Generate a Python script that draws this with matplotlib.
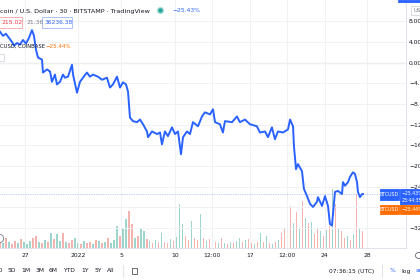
import matplotlib.pyplot as plt
from matplotlib.lines import Line2D
from matplotlib.patches import Rectangle

# BTCUSD 30 min, percent change, x = days from 27 Dec 2021
days = [-2.34, -2.06, -1.78, -1.50, -1.21, -1.03, -0.75, -0.47, -0.19, 0.09,
        0.37, 0.65, 0.84, 1.03, 1.21, 1.59, 1.68, 2.06, 2.34, 2.52,
        2.80, 2.99, 3.27, 3.55, 3.74, 4.02, 4.39, 4.49, 4.86, 5.14,
        5.42, 5.79, 6.07, 6.36, 6.82, 7.20, 7.66, 7.94, 8.22, 8.60,
        8.88, 9.16, 9.44, 9.63, 9.81, 10.09, 10.47, 10.75, 11.03, 11.40,
        11.50, 11.87, 12.34, 12.62, 12.80, 13.08, 13.36, 13.74, 14.02, 14.30,
        14.58, 14.77, 15.14, 15.42, 15.70, 16.17, 16.54, 16.82, 17.29, 17.57,
        17.76, 18.22, 18.50, 18.69, 19.35, 19.81, 20.09, 20.56, 21.03, 21.68,
        21.96, 22.43, 22.71, 23.08, 23.36, 23.64, 24.11, 24.58, 24.77, 25.05,
        25.14, 25.33, 25.51, 25.89, 26.07, 26.36, 26.64, 26.92, 27.29, 27.38,
        27.76, 28.04, 28.32, 28.50, 28.69, 28.79, 28.97, 29.25, 29.63, 29.72,
        29.91, 30.19, 30.37, 30.65, 30.84, 31.03, 31.12, 31.31, 31.50, 31.59]
pct = [6.0, 5.2, 5.6, 4.8, 4.0, 3.3, 3.8, 3.5, 4.4, 3.7,
       4.8, 6.3, 5.2, 2.5, 1.0, 0.6, -1.9, -1.3, -1.7, -3.7,
       -2.3, -4.2, -3.7, -2.3, -2.9, -2.7, -0.4, -2.3, -5.8, -3.7,
       -2.9, -1.9, -2.7, -2.3, -2.7, -3.3, -2.9, -4.8, -4.2, -2.7,
       -4.8, -3.8, -4.2, -5.6, -10.6, -11.3, -11.5, -11.0, -11.9, -13.3,
       -14.4, -13.3, -13.8, -13.5, -15.8, -13.3, -14.2, -12.5, -13.8, -13.3,
       -17.7, -14.4, -13.3, -13.8, -11.5, -12.3, -10.4, -9.6, -10.0, -9.0,
       -11.5, -11.9, -13.5, -11.3, -11.5, -10.4, -11.5, -11.0, -11.9, -12.3,
       -13.5, -13.3, -14.4, -12.5, -14.8, -13.3, -13.5, -12.9, -11.0, -12.3,
       -16.2, -20.6, -19.6, -21.0, -24.4, -25.8, -27.3, -27.9, -26.9, -26.0,
       -27.7, -25.8, -27.7, -31.2, -31.5, -29.2, -25.0, -24.8, -25.4, -23.1,
       -23.8, -23.1, -22.1, -21.2, -21.5, -23.1, -25.0, -26.0, -25.4, -25.4]

# volume bars, one every vol_step days starting at vol_start
vol_start = -2.34
vol_step = 0.28
vol = [8, 5, 10, 6, 4, 7, 5, 9, 6, 4,
       7, 10, 12, 6, 5, 8, 6, 15, 9, 14,
       7, 15, 6, 5, 8, 10, 5, 4, 7, 5,
       6, 4, 8, 7, 5, 6, 10, 5, 8, 22,
       12, 20, 29, 37, 24, 10, 12, 19, 17, 9,
       7, 5, 8, 6, 15, 6, 5, 9, 7, 11,
       44, 24, 12, 8, 27, 10, 8, 34, 10, 7,
       9, 17, 6, 5, 10, 5, 4, 6, 5, 7,
       10, 6, 8, 9, 5, 4, 6, 15, 6, 12,
       5, 4, 6, 8, 15, 20, 14, 42, 25, 36,
       20, 47, 30, 25, 26, 14, 20, 17, 12, 18,
       22, 59, 44, 20, 17, 10, 12, 8, 14, 54,
       20, 17]
vol_dir = ("rgrgrrgrgg" "grrgrgrgrg" "grgrrggrgr" "rgrgrgrggg" "rggrrgrggr"
           "grgrgrrgrg" "ggrrgrrgrg" "rgrgrgrgrg" "grgrrgrgrg" "rgrgrrgrgr"
           "grgrgrrgrg" "rgrgrrgrgr" "gr")

x_ticks = [0, 5, 9, 14, 17.5, 21, 24.5, 28, 32]
x_labels = ['27', '2022', '5', '10', '12:00', '17', '12:00', '24', '28']
y_ticks = [8, 4, 0, -4, -8, -12, -16, -20, -24, -28, -32]
# the -28 label sits under the price labels, so it stays blank
y_labels = ['8.00%', '4.00%', '0.00%', '\u22124.00%', '\u22128.00%', '\u221212.00%',
            '\u221216.00%', '\u221220.00%', '\u221224.00%', '', '\u221232.00%']

W, H = 420, 280
BLUE = '#2962ff'
ORANGE = '#ff6d00'
TXT = '#131722'


def fx(x):
    return x / W


def fy(y):
    return 1 - y / H


fig = plt.figure(figsize=(4.2, 2.8), dpi=100)
rect = [0, fy(248), fx(406), 248 / H]

# volume underneath
axv = fig.add_axes(rect, zorder=0)
vx = [vol_start + i * vol_step for i in range(len(vol))]
vc = ['#f29a96' if d == 'r' else '#7cc8bd' for d in vol_dir]
axv.bar(vx, vol, width=0.14, color=vc, alpha=0.75, linewidth=0)
axv.set_ylim(0, 248)
axv.set_xlim(-2.336, 35.61)
axv.axis('off')

ax = fig.add_axes(rect, zorder=1)
ax.patch.set_visible(False)
ax.plot(days, pct, color=BLUE, lw=1.4, solid_joinstyle='round', zorder=3)
ax.axhline(0, color='#a3a6af', lw=0.8, zorder=1)
ax.axhline(pct[-1], color=BLUE, lw=0.5, ls=(0, (1, 1.5)), alpha=0.6, zorder=2)
ax.set_xlim(-2.336, 35.61)
ax.set_ylim(-35.84, 12.13)
ax.set_xticks(x_ticks, x_labels)
ax.set_yticks(y_ticks, y_labels)
ax.yaxis.tick_right()
ax.grid(color='#eff1f5', lw=0.7, zorder=0)
ax.tick_params(axis='both', length=0, labelsize=4.3, colors=TXT)
ax.tick_params(axis='y', pad=2.2)
ax.tick_params(axis='x', pad=3.5)
for s in ['left', 'top']:
    ax.spines[s].set_visible(False)
for s in ['right', 'bottom']:
    ax.spines[s].set_color('#e0e3eb')
    ax.spines[s].set_linewidth(0.7)


def box(x0, y0, x1, y1, face, edge=None, lw=0.6):
    fig.add_artist(Rectangle((fx(x0), fy(y1)), fx(x1 - x0), (y1 - y0) / H,
                             transform=fig.transFigure, facecolor=face,
                             edgecolor=edge if edge else face, lw=lw, zorder=5))


def label(x, y, s, color=TXT, size=4.3, ha='left'):
    fig.text(fx(x), fy(y), s, color=color, fontsize=size, ha=ha, va='center', zorder=6)


# header
label(0, 11, 'coin / U.S. Dollar \u00b7 30 \u00b7 BITSTAMP \u00b7 TradingView', size=4.6)
fig.add_artist(Line2D([fx(160)], [fy(10)], marker='o', ms=4.2, color='#26a69a',
                      alpha=0.3, transform=fig.transFigure))
fig.add_artist(Line2D([fx(160)], [fy(10)], marker='o', ms=2.2, color='#26a69a',
                      transform=fig.transFigure))
label(172, 11, '\u221225.43%', color=BLUE)
box(-3, 17, 22, 28, 'white', '#f7a0a6')
label(1, 22.5, '215.02', color='#f23645')
label(27, 22.5, '21.36', color='#787b86')
box(42, 17, 72, 28, 'white', '#9db5fb')
label(45, 22.5, '36236.38', color=BLUE)
label(0, 46, 'CUSD, COINBASE', size=3.8)
label(45, 46, '\u221225.44%', color=ORANGE, size=4.0)
box(-3, 54, 4, 61, 'white', '#d1d4dc')

# top right bits
box(398, 0, 421, 1.8, BLUE)
box(411, 6, 422, 15, 'white', '#d1d4dc')
label(413, 10.5, 'USD', color='#787b86', size=3.8)

# last price labels
box(380, 189, 399, 200, BLUE)
label(389.5, 194.5, 'BTCUSD', color='white', size=3.4, ha='center')
box(400, 189, 421, 204, BLUE)
label(402, 193.2, '\u221225.43%', color='white', size=3.3)
label(402, 200.2, '23:44:35', color='white', size=3.3)
box(380, 205, 399, 214, ORANGE)
label(389.5, 209.5, 'BTCUSD', color='white', size=3.4, ha='center')
box(400, 205, 421, 214, ORANGE)
label(402, 209.5, '\u221225.44%', color='white', size=3.3)

# scroll button and gear
fig.add_artist(Line2D([fx(-1)], [fy(238)], marker='o', ms=6, mfc='white',
                      mec='#787b86', mew=0.6, transform=fig.transFigure))
fig.add_artist(Line2D([fx(418)], [fy(255)], marker='8', ms=5, mfc='white',
                      mec='#787b86', mew=0.7, transform=fig.transFigure))

# bottom toolbar
for s, x in [('1D', -1), ('5D', 12), ('1M', 26), ('3M', 40), ('6M', 53),
             ('YTD', 69), ('1Y', 85), ('5Y', 98), ('All', 111)]:
    label(x, 271, s, ha='center')
for x in [123, 382]:
    fig.add_artist(Line2D([fx(x), fx(x)], [fy(265), fy(277)], color='#e0e3eb',
                          lw=0.7, transform=fig.transFigure))
box(132, 268, 137, 273.5, 'white', '#50535e')
label(352, 271, '07:36:15 (UTC)', ha='center')
label(392, 271, '%', color=BLUE, ha='center')
label(406, 271, 'log', ha='center')
label(416, 271, 'auto', color=BLUE)

fig.savefig('out.png', dpi=100)
